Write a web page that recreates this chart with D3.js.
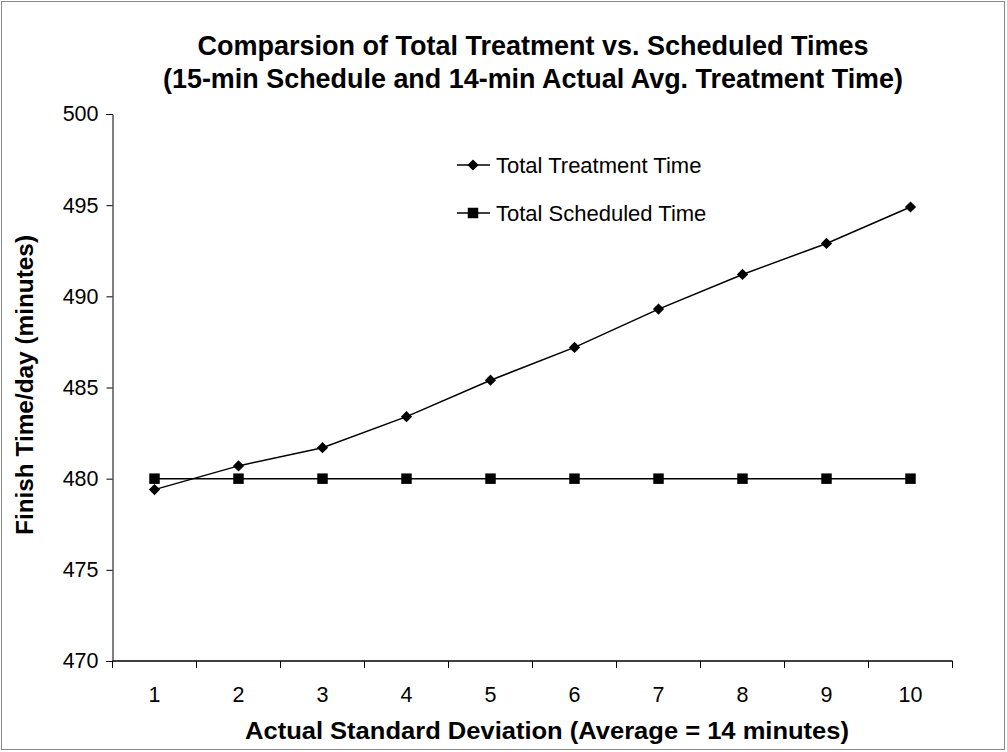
<!DOCTYPE html>
<html>
<head>
<meta charset="utf-8">
<script src="https://d3js.org/d3.v7.min.js"></script>
<style>
  body { margin: 0; background: #fff; }
  svg { font-family: "Liberation Sans", Arial, sans-serif; }
</style>
</head>
<body>
<svg width="1007" height="752"></svg>
<script>
// values
let categories = ["1", "2", "3", "4", "5", "6", "7", "8", "9", "10"]
let treatment = [479.4, 480.7, 481.7, 483.4, 485.4, 487.2, 489.3, 491.2, 492.9, 494.9]
let scheduled = [480, 480, 480, 480, 480, 480, 480, 480, 480, 480]
let yTicks = [470, 475, 480, 485, 490, 495, 500]

var svg = d3.select("svg")

// outer frame
svg.append("rect")
    .attr("x", 1.5).attr("y", 1.5)
    .attr("width", 1003).attr("height", 748)
    .attr("fill", "#fff")
    .attr("stroke", "#888")

let x = d3.scaleBand().domain(categories).range([112.5, 952.5])
let y = d3.scaleLinear().domain([470, 500]).range([661, 114])

// title
svg.append("text")
    .attr("x", 533).attr("y", 55)
    .attr("text-anchor", "middle")
    .attr("font-weight", "bold")
    .attr("font-size", "27px")
    .attr("textLength", 671).attr("lengthAdjust", "spacingAndGlyphs")
    .text("Comparsion of Total Treatment vs. Scheduled Times")
svg.append("text")
    .attr("x", 533).attr("y", 88)
    .attr("text-anchor", "middle")
    .attr("font-weight", "bold")
    .attr("font-size", "27px")
    .attr("textLength", 740).attr("lengthAdjust", "spacingAndGlyphs")
    .text("(15-min Schedule and 14-min Actual Avg. Treatment Time)")

// y axis
let yAxis = svg.append("g")
    .attr("transform", "translate(112.5,0)")
    .call(d3.axisLeft(y).tickValues(yTicks).tickSize(6).tickPadding(8))
yAxis.selectAll("text").attr("font-size", "21.5px").attr("fill", "#000")
    .attr("font-family", "Liberation Sans, Arial, sans-serif")
yAxis.select(".domain").attr("stroke", "#000")
yAxis.selectAll(".tick line").attr("stroke", "#000")

// x axis: ticks at category boundaries, labels at centres
let xAxis = svg.append("g")
    .attr("transform", "translate(0,661)")
xAxis.append("line")
    .attr("x1", x.range()[0]).attr("x2", x.range()[1])
    .attr("stroke", "#000").attr("stroke-width", 1.5)
let edges = categories.map(c => x(c)).concat([x.range()[1]])
xAxis.selectAll(".edge").data(edges).enter().append("line")
    .attr("x1", d => d).attr("x2", d => d)
    .attr("y1", 0).attr("y2", 7)
    .attr("stroke", "#000")
xAxis.selectAll(".lab").data(categories).enter().append("text")
    .attr("x", d => x(d) + x.bandwidth() / 2)
    .attr("y", 41)
    .attr("text-anchor", "middle")
    .attr("font-size", "21.5px")
    .text(d => d)

// axis titles
svg.append("text")
    .attr("x", 547).attr("y", 739)
    .attr("text-anchor", "middle")
    .attr("font-weight", "bold")
    .attr("font-size", "24px")
    .attr("textLength", 604).attr("lengthAdjust", "spacingAndGlyphs")
    .text("Actual Standard Deviation (Average = 14 minutes)")

svg.append("text")
    .attr("transform", "translate(33,385) rotate(-90)")
    .attr("text-anchor", "middle")
    .attr("font-weight", "bold")
    .attr("font-size", "24px")
    .attr("textLength", 300).attr("lengthAdjust", "spacingAndGlyphs")
    .text("Finish Time/day (minutes)")

let cx = (d, i) => x(categories[i]) + x.bandwidth() / 2
let line = d3.line().x(cx).y(d => y(d))

let diamond = d3.symbol().type(d3.symbolDiamond2).size(80)
let square = d3.symbol().type(d3.symbolSquare).size(110)

// scheduled series
svg.append("path").datum(scheduled)
    .attr("d", line).attr("fill", "none")
    .attr("stroke", "#000").attr("stroke-width", 1.5)
svg.selectAll(".sq").data(scheduled).enter().append("path")
    .attr("d", square)
    .attr("transform", (d, i) => "translate(" + cx(d, i) + "," + y(d) + ")")
    .attr("fill", "#000")

// treatment series
svg.append("path").datum(treatment)
    .attr("d", line).attr("fill", "none")
    .attr("stroke", "#000").attr("stroke-width", 1.5)
svg.selectAll(".dm").data(treatment).enter().append("path")
    .attr("d", diamond)
    .attr("transform", (d, i) => "translate(" + cx(d, i) + "," + y(d) + ")")
    .attr("fill", "#000")

// legend
let legend = [
    { name: "Total Treatment Time", sym: diamond, y: 165 },
    { name: "Total Scheduled Time", sym: square, y: 213 }
]
let lg = svg.selectAll(".lg").data(legend).enter().append("g")
    .attr("transform", d => "translate(0," + d.y + ")")
lg.append("line")
    .attr("x1", 457).attr("x2", 490)
    .attr("stroke", "#000").attr("stroke-width", 1.5)
lg.append("path")
    .attr("d", d => d.sym())
    .attr("transform", "translate(473,0)")
    .attr("fill", "#000")
lg.append("text")
    .attr("x", 496).attr("y", 8)
    .attr("font-size", "22px")
    .text(d => d.name)
</script>
</body>
</html>
